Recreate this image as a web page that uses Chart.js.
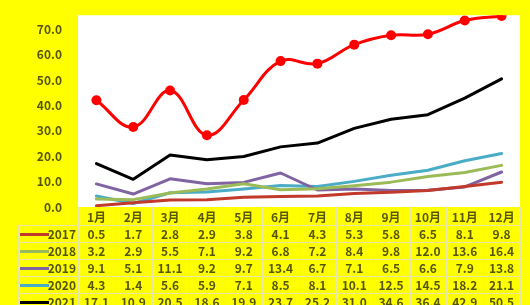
<!DOCTYPE html>
<html>
<head>
<meta charset="utf-8">
<script src="https://cdn.jsdelivr.net/npm/chart.js@4.4.0/dist/chart.umd.min.js"></script>
<style>
  html, body { margin: 0; padding: 0; background: #ffff00; }
  canvas { display: block; }
</style>
</head>
<body>
<canvas id="chart" width="530" height="305"></canvas>
<script>
// data
const months = ['1月', '2月', '3月', '4月', '5月', '6月', '7月', '8月', '9月', '10月', '11月', '12月'];
const s2017 = [0.5, 1.7, 2.8, 2.9, 3.8, 4.1, 4.3, 5.3, 5.8, 6.5, 8.1, 9.8];
const s2018 = [3.2, 2.9, 5.5, 7.1, 9.2, 6.8, 7.2, 8.4, 9.8, 12.0, 13.6, 16.4];
const s2019 = [9.1, 5.1, 11.1, 9.2, 9.7, 13.4, 6.7, 7.1, 6.5, 6.6, 7.9, 13.8];
const s2020 = [4.3, 1.4, 5.6, 5.9, 7.1, 8.5, 8.1, 10.1, 12.5, 14.5, 18.2, 21.1];
const s2021 = [17.1, 10.9, 20.5, 18.6, 19.9, 23.7, 25.2, 31.0, 34.6, 36.4, 42.9, 50.5];
const sRed = [42.1, 31.5, 45.9, 28.3, 42.2, 57.5, 56.5, 64.0, 67.7, 68.1, 73.5, 75.3];
const yearLabels = ['2017', '2018', '2019', '2020', '2021'];

const textColor = '#56560a';
const font = '"Noto Sans CJK SC", "Noto Sans", sans-serif';

function lineSet(label, data, color) {
    return {
        label: label,
        data: data,
        borderColor: color,
        backgroundColor: color,
        borderWidth: 3,
        pointRadius: 0,
        tension: 0,
        inTable: true
    };
}

const datasets = [
    lineSet('2017', s2017, '#c0392b'),
    lineSet('2018', s2018, '#9bbb59'),
    lineSet('2019', s2019, '#8064a2'),
    lineSet('2020', s2020, '#4bacc6'),
    lineSet('2021', s2021, '#000000'),
    {
        label: 'red',
        data: sRed,
        borderColor: '#ff0000',
        backgroundColor: '#ff0000',
        borderWidth: 3,
        pointRadius: 5,
        pointBorderWidth: 0,
        tension: 0.4,
        inTable: false
    }
];

// yellow background + white plot area
const bgPlugin = {
    id: 'bg',
    beforeDraw(chart) {
        const { ctx, chartArea } = chart;
        ctx.save();
        ctx.fillStyle = '#ffff00';
        ctx.fillRect(0, 0, chart.width, chart.height);
        ctx.fillStyle = '#ffffff';
        ctx.fillRect(chartArea.left, chartArea.top, chartArea.right - chartArea.left, chartArea.bottom - chartArea.top);
        ctx.restore();
    }
};

// data table under the plot
const tablePlugin = {
    id: 'dataTable',
    afterDraw(chart) {
        const { ctx, chartArea } = chart;
        const x = chart.scales.x;
        const colW = (chartArea.right - chartArea.left) / months.length;
        const top = chartArea.bottom;
        const headH = 18;
        const rowH = 17;
        const legendLeft = 18;

        ctx.save();
        // grid lines
        ctx.strokeStyle = '#e6e6a8';
        ctx.lineWidth = 1;
        for (let i = 0; i <= months.length; i++) {
            const px = Math.round(chartArea.left + i * colW) + 0.5;
            ctx.beginPath();
            ctx.moveTo(px, top);
            ctx.lineTo(px, chart.height);
            ctx.stroke();
        }
        for (let r = 0; r <= yearLabels.length; r++) {
            const py = Math.round(top + headH + r * rowH) + 0.5;
            ctx.beginPath();
            ctx.moveTo(legendLeft, py);
            ctx.lineTo(chartArea.right, py);
            ctx.stroke();
        }
        ctx.beginPath();
        ctx.moveTo(legendLeft + 0.5, top + headH);
        ctx.lineTo(legendLeft + 0.5, chart.height);
        ctx.stroke();

        ctx.fillStyle = textColor;
        ctx.font = 'bold 12px ' + font;
        ctx.textAlign = 'center';
        ctx.textBaseline = 'middle';
        months.forEach((m, i) => {
            ctx.fillText(m, x.getPixelForValue(i), top + headH / 2 + 1);
        });

        const rows = chart.data.datasets.filter(d => d.inTable);
        rows.forEach((ds, r) => {
            const cy = top + headH + r * rowH + rowH / 2 + 1;
            // legend key
            ctx.strokeStyle = ds.borderColor;
            ctx.lineWidth = 3;
            ctx.beginPath();
            ctx.moveTo(legendLeft + 2, cy);
            ctx.lineTo(legendLeft + 31, cy);
            ctx.stroke();
            ctx.fillStyle = textColor;
            ctx.textAlign = 'right';
            ctx.fillText(ds.label, chartArea.left - 2, cy);
            ctx.textAlign = 'center';
            ds.data.forEach((v, i) => {
                ctx.fillText(v.toFixed(1), x.getPixelForValue(i), cy);
            });
        });
        ctx.restore();
    }
};

new Chart(document.getElementById('chart'), {
    type: 'line',
    data: { labels: months, datasets: datasets },
    options: {
        responsive: false,
        animation: false,
        devicePixelRatio: 1,
        layout: { padding: { top: 5, right: 10, bottom: 98, left: 0 } },
        plugins: {
            legend: { display: false },
            tooltip: { enabled: false }
        },
        elements: { line: { borderCapStyle: 'round', borderJoinStyle: 'round' } },
        scales: {
            x: {
                display: false,
                offset: true
            },
            y: {
                min: 0,
                max: 75.6,
                grid: { display: false },
                border: { display: false },
                afterBuildTicks(scale) {
                    scale.ticks = [0, 10, 20, 30, 40, 50, 60, 70].map(v => ({ value: v }));
                },
                afterFit(scale) { scale.width = 78; },
                ticks: {
                    padding: 8,
                    color: textColor,
                    font: { family: font, size: 12, weight: 'bold' },
                    callback: v => v.toFixed(1)
                }
            }
        }
    },
    plugins: [bgPlugin, tablePlugin]
});
</script>
</body>
</html>
